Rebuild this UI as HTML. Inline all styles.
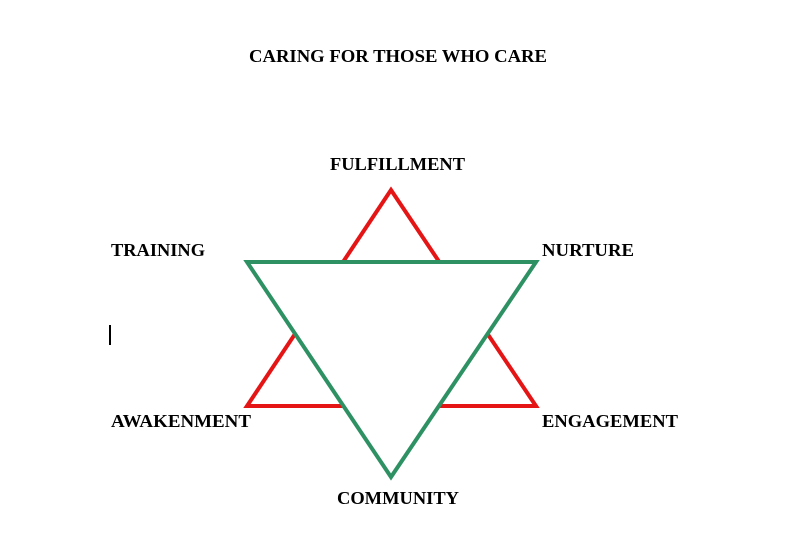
<!DOCTYPE html>
<html><head><meta charset="utf-8"><style>
html,body{margin:0;padding:0;background:#fff;width:791px;height:542px;overflow:hidden}
svg{display:block}
text{font-family:"Liberation Serif",serif;font-weight:bold;font-size:18px;fill:#000}
</style></head><body>
<svg width="791" height="542" viewBox="0 0 791 542">
<text x="249" y="62" textLength="298" lengthAdjust="spacingAndGlyphs">CARING FOR THOSE WHO CARE</text>
<text x="330" y="170" textLength="135" lengthAdjust="spacingAndGlyphs">FULFILLMENT</text>
<text x="111" y="256" textLength="94" lengthAdjust="spacingAndGlyphs">TRAINING</text>
<text x="542" y="256" textLength="92" lengthAdjust="spacingAndGlyphs">NURTURE</text>
<text x="111" y="427" textLength="140" lengthAdjust="spacingAndGlyphs">AWAKENMENT</text>
<text x="542" y="427" textLength="136" lengthAdjust="spacingAndGlyphs">ENGAGEMENT</text>
<text x="337" y="504" textLength="122" lengthAdjust="spacingAndGlyphs">COMMUNITY</text>
<rect x="109" y="325" width="2" height="20" fill="#000"/>
<polygon points="391,190 247,406 536,406" fill="none" stroke="#e51515" stroke-width="4" stroke-linejoin="miter"/>
<polygon points="247,262 536,262 391,477" fill="#fff" stroke="#2e9163" stroke-width="4" stroke-linejoin="miter"/>
</svg>
</body></html>
